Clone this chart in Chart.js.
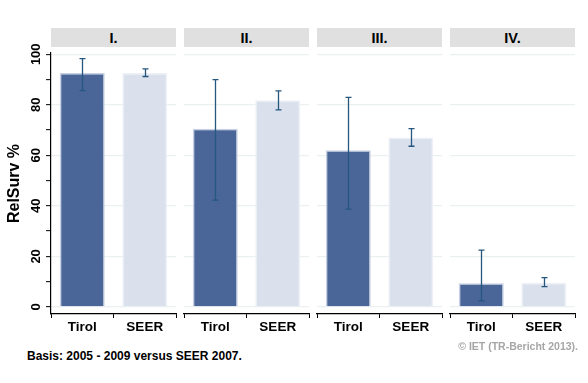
<!DOCTYPE html>
<html>
<head>
<meta charset="utf-8">
<script src="https://cdn.jsdelivr.net/npm/chart.js@4/dist/chart.umd.min.js"></script>
<style>
  html, body { margin: 0; padding: 0; background: #fff; }
  body { width: 588px; height: 383px; position: relative; overflow: hidden; font-family: "Liberation Sans", Arial, sans-serif; }
  canvas { position: absolute; top: 0; }
  .hdr { position: absolute; top: 28px; height: 19px; background: #e0e0e0; color: #000; font-weight: bold; font-size: 14.5px; line-height: 20px; text-align: center; }
  .note { position: absolute; font-weight: bold; white-space: nowrap; }
</style>
</head>
<body>
<script>
// ---- data ----
const categories = ['Tirol', 'SEER'];
const panels = ['I.', 'II.', 'III.', 'IV.'];
const tirolValues = [92.6, 70.5, 62.0, 9.4];
const tirolLow    = [85.6, 42.3, 38.7, 2.4];
const tirolHigh   = [98.3, 90.0, 82.9, 22.5];
const seerValues  = [92.6, 81.8, 67.1, 9.6];
const seerLow     = [91.2, 78.0, 63.6, 8.0];
const seerHigh    = [94.2, 85.5, 70.6, 11.6];
const yTickLabels = [0, 20, 40, 60, 80, 100];
const yTitle = 'RelSurv %';
const footLeft = 'Basis: 2005 - 2009 versus SEER 2007.';
const footRight = '\u00A9 IET (TR-Bericht 2013).';

// ---- layout ----
const panelLeft = [51, 184, 317, 450];
const panelW = 125;
const canvasH = 345;
const plotTop = 53, plotBottom = 314;
const PAD = 2;

const errorBars = {
  id: 'errorBars',
  afterDatasetsDraw(chart, args, opts) {
    const ctx = chart.ctx;
    const y = chart.scales.y;
    const meta = chart.getDatasetMeta(0);
    ctx.save();
    ctx.strokeStyle = '#25577f';
    ctx.lineWidth = 1.3;
    meta.data.forEach((el, i) => {
      const lo = opts.low[i], hi = opts.high[i];
      const yl = y.getPixelForValue(lo), yh = y.getPixelForValue(hi);
      const x = Math.round(el.x) + 0.5;
      ctx.beginPath();
      ctx.moveTo(x, yl); ctx.lineTo(x, yh);
      ctx.moveTo(x - 3, yl); ctx.lineTo(x + 3, yl);
      ctx.moveTo(x - 3, yh); ctx.lineTo(x + 3, yh);
      ctx.stroke();
    });
    ctx.restore();
  }
};

const yLabels = {
  id: 'yLabels',
  afterDraw(chart, args, opts) {
    if (!opts.show) return;
    const ctx = chart.ctx;
    const y = chart.scales.y;
    ctx.save();
    ctx.fillStyle = '#000';
    ctx.font = 'bold 13px "Liberation Sans", Arial, sans-serif';
    ctx.textAlign = 'center';
    ctx.textBaseline = 'middle';
    yTickLabels.forEach(v => {
      const py = y.getPixelForValue(v);
      ctx.save();
      ctx.translate(36, py);
      ctx.rotate(-Math.PI / 2);
      ctx.fillText(String(v), 0, 0);
      ctx.restore();
    });
    ctx.restore();
  }
};

panels.forEach((p, i) => {
  const first = i === 0;
  const cv = document.createElement('canvas');
  const left = first ? 0 : panelLeft[i] - PAD;
  const width = first ? panelLeft[0] + panelW + PAD : panelW + 2 * PAD;
  cv.width = width; cv.height = canvasH;
  cv.style.left = left + 'px';
  cv.style.width = width + 'px'; cv.style.height = canvasH + 'px';
  document.body.appendChild(cv);

  const hdr = document.createElement('div');
  hdr.className = 'hdr';
  hdr.style.left = panelLeft[i] + 'px';
  hdr.style.width = panelW + 'px';
  hdr.textContent = p;
  document.body.appendChild(hdr);

  new Chart(cv, {
    type: 'bar',
    data: {
      labels: categories,
      datasets: [{
        data: [tirolValues[i], seerValues[i]],
        backgroundColor: ['#4a6699', '#dae1ed'],
        borderColor: ['#c6d0e2', '#edf0f6'],
        borderWidth: 1.5,
        barPercentage: 0.72,
        categoryPercentage: 1.0
      }]
    },
    plugins: [errorBars, yLabels],
    options: {
      responsive: false,
      animation: false,
      devicePixelRatio: 1,
      layout: { padding: { left: first ? 0 : PAD, right: PAD, top: plotTop, bottom: 0 } },
      plugins: {
        legend: { display: false },
        tooltip: { enabled: false },
        errorBars: { low: [tirolLow[i], seerLow[i]], high: [tirolHigh[i], seerHigh[i]] },
        yLabels: { show: first }
      },
      scales: {
        x: {
          offset: true,
          afterFit(s) { s.height = canvasH - plotBottom; },
          grid: { color: 'transparent', drawOnChartArea: false, drawTicks: true, tickLength: 4, tickColor: '#000', tickWidth: 1 },
          border: { display: true, color: '#000', width: 1.2 },
          ticks: { color: '#000', padding: 1, font: { family: '"Liberation Sans", Arial, sans-serif', size: 13.5, weight: 'bold' } }
        },
        y: {
          min: -2.8, max: 100.5,
          afterBuildTicks(s) {
            const t = [];
            for (let v = 0; v <= 100; v += 10) t.push({ value: v });
            s.ticks = t;
          },
          afterFit(s) { s.width = first ? panelLeft[0] : 0; },
          grid: {
            drawOnChartArea: true,
            drawTicks: first,
            tickLength: 5,
            color: (c) => (c.tick && c.tick.value % 20 === 0) ? '#ebf1f2' : 'transparent',
            lineWidth: 1.3,
            tickColor: '#000',
            tickWidth: 1
          },
          border: { display: first, color: '#000', width: 1.2 },
          ticks: { display: false },
          title: {
            display: first,
            text: yTitle,
            color: '#000',
            font: { family: '"Liberation Sans", Arial, sans-serif', size: 16, weight: 'bold' },
            padding: { top: 5, bottom: 0 }
          }
        }
      }
    }
  });
});

const fl = document.createElement('div');
fl.className = 'note';
fl.style.cssText = 'left:27px; top:349px; font-size:12px; color:#000;';
fl.textContent = footLeft;
document.body.appendChild(fl);

const fr = document.createElement('div');
fr.className = 'note';
fr.style.cssText = 'right:10px; top:340px; font-size:10.5px; color:#a6a6a6;';
fr.textContent = footRight;
document.body.appendChild(fr);
</script>
</body>
</html>
